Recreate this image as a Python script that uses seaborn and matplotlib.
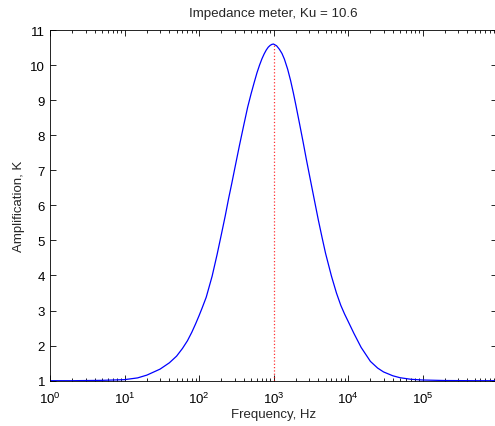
import numpy as np
import pandas as pd
import seaborn as sb
import matplotlib.pyplot as plt

# values
freq = [1, 2, 5, 10, 15, 20, 30, 40, 50, 60, 70, 80, 90, 100, 110, 125, 150,
        175, 200, 225, 250, 275, 300, 350, 400, 450, 500, 550, 600, 650, 700,
        750, 800, 850, 900, 950, 1000, 1100, 1200, 1300, 1400, 1550, 1700,
        1850, 2000, 2250, 2500, 2750, 3000, 3500, 4000, 4500, 5000, 6000,
        7000, 8000, 9000, 10000, 12000, 15000, 20000, 25000, 30000, 40000,
        50000, 70000, 100000, 200000, 500000, 1000000]
gain = [1.00, 1.00, 1.01, 1.03, 1.08, 1.16, 1.33, 1.51, 1.70, 1.92, 2.14, 2.38,
        2.62, 2.85, 3.07, 3.38, 3.98, 4.60, 5.18, 5.70, 6.20, 6.62, 7.02, 7.72,
        8.30, 8.80, 9.18, 9.50, 9.78, 10.00, 10.18, 10.32, 10.43, 10.51, 10.56,
        10.59, 10.60, 10.55, 10.45, 10.33, 10.17, 9.88, 9.55, 9.20, 8.85, 8.30,
        7.80, 7.33, 6.92, 6.20, 5.58, 5.07, 4.63, 3.98, 3.50, 3.15, 2.90, 2.70,
        2.35, 1.95, 1.55, 1.36, 1.25, 1.14, 1.085, 1.04, 1.02, 1.005, 1.00,
        1.00]
f0 = 1000
ku = 10.6
xticks = [1, 10, 100, 1000, 10000, 100000]
yticks = list(range(1, 12))

data = pd.DataFrame({'Frequency': freq, 'K': gain})

sb.set_style('ticks')
plt.rcParams['font.family'] = ['Liberation Sans', 'DejaVu Sans']
plt.rcParams['mathtext.fontset'] = 'custom'
plt.rcParams['mathtext.rm'] = 'Liberation Sans'

fig = plt.figure(figsize=(4.95, 4.27), dpi=100)
ax = fig.add_axes([50 / 495, 45.3 / 427, 447 / 495, 350.7 / 427])

sb.lineplot(data=data, x='Frequency', y='K', ax=ax, color='blue', lw=0.9)
ax.plot([f0, f0], [1, ku], color='red', ls=':', lw=0.9, alpha=0.8)

ax.set_xscale('log')
ax.set_xlim(1, 1e6)
ax.set_ylim(1, 11)
ax.set_xticks(xticks)
ax.set_yticks(yticks)
ax.tick_params(which='both', direction='in', top=True, right=True,
               labelsize=9.5, colors='black', width=0.6)
ax.tick_params(which='major', length=4.5)
ax.tick_params(which='minor', length=2.5)
ax.tick_params(axis='x', which='major', pad=7)
for s in ax.spines.values():
    s.set_linewidth(0.6)
    s.set_color('black')

ax.set_title('Impedance meter, Ku = 10.6', fontsize=9.6, pad=10)
ax.set_xlabel('Frequency, Hz', fontsize=9.5, labelpad=2)
ax.set_ylabel('Amplification, K', fontsize=9.5, labelpad=4)

fig.savefig('out.png', dpi=100)
